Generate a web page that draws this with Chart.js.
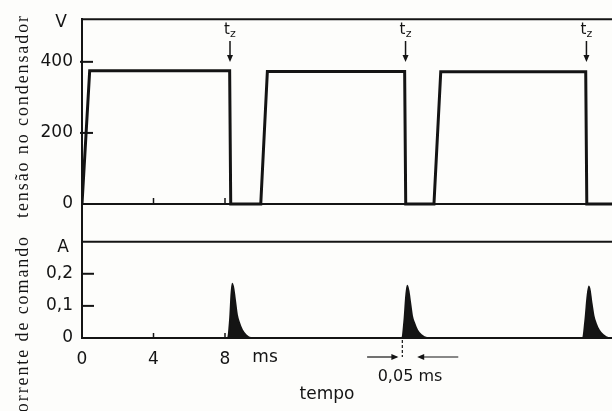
<!DOCTYPE html>
<html>
<head>
<meta charset="utf-8">
<script src="https://cdn.jsdelivr.net/npm/chart.js@4"></script>
<style>
    html, body { margin: 0; padding: 0; background: #fdfdfb; }
    #wrap { width: 612px; height: 411px; position: relative; }
</style>
</head>
<body>
<div id="wrap"><canvas id="chart" width="612" height="411"></canvas></div>
<script>
// tensão no condensador (V)
var timeV = [0, 0.43, 8.26, 8.32, 10.0, 10.37, 18.05, 18.11, 19.69, 20.07, 28.18, 28.24, 29.65];
var volts = [0, 375, 375, 0, 0, 373, 373, 0, 0, 372, 372, 0, 0];

// corrente de comando (A), three short pulses at t_z
var timeI = [0,
    8.17, 8.28, 8.41, 8.56, 8.67, 8.78, 8.95, 9.17, 9.45,
    17.92, 18.03, 18.2, 18.35, 18.46, 18.58, 18.75, 18.97, 19.3,
    28.03, 28.15, 28.36, 28.5, 28.62, 28.74, 28.92, 29.15, 29.45,
    29.65];
var amps = [0,
    0, 0.055, 0.169, 0.117, 0.071, 0.049, 0.025, 0.009, 0,
    0, 0.05, 0.163, 0.113, 0.069, 0.047, 0.024, 0.009, 0,
    0, 0.05, 0.16, 0.11, 0.068, 0.046, 0.024, 0.009, 0,
    0];

var tzTimes = [8.28, 18.1, 28.22];   // firing instants marked t_z

var vTicks = [0, 200, 400];
var iTicks = [0, 0.1, 0.2];
var tTicks = [0, 4, 8];

var ink = '#141414';
var tickFont = { family: 'DejaVu Sans', size: 17 };

function line(c, x1, y1, x2, y2) {
    c.beginPath();
    c.moveTo(x1, y1);
    c.lineTo(x2, y2);
    c.stroke();
}

function arrowHead(c, x, y, dx, dy) { // tip at x,y pointing along dx,dy
    var px = -dy, py = dx;
    c.beginPath();
    c.moveTo(x, y);
    c.lineTo(x - dx * 7 + px * 3, y - dy * 7 + py * 3);
    c.lineTo(x - dx * 7 - px * 3, y - dy * 7 - py * 3);
    c.closePath();
    c.fill();
}

var annotatePlugin = {
    id: 'annotate',
    afterDraw: function (chart) {
        var c = chart.ctx;
        var a = chart.chartArea;
        var x = chart.scales.x, yV = chart.scales.yV, yI = chart.scales.yI;
        var zeroV = yV.getPixelForValue(0);
        c.save();
        c.strokeStyle = ink;
        c.fillStyle = ink;
        c.lineWidth = 2;

        // frame lines
        [yV.getPixelForValue(yV.max), zeroV, yI.getPixelForValue(yI.max)].forEach(function (py) {
            line(c, a.left, py, a.right, py);
        });

        // inward tick marks
        vTicks.slice(1).forEach(function (v) {
            var py = yV.getPixelForValue(v);
            line(c, a.left - 2, py, a.left + 11, py);
        });
        iTicks.slice(1).forEach(function (v) {
            var py = yI.getPixelForValue(v);
            line(c, a.left, py, a.left + 12, py);
        });
        c.lineWidth = 1.5;
        tTicks.slice(1).forEach(function (t) {
            var px = x.getPixelForValue(t);
            line(c, px, zeroV, px, zeroV - 6);
            line(c, px, a.bottom, px, a.bottom - 5);
        });

        // unit labels
        c.font = '17px "DejaVu Sans"';
        c.textAlign = 'center';
        c.textBaseline = 'middle';
        c.fillText('V', 61, 23);
        c.fillText('A', 63, 248);
        c.fillText('ms', x.getPixelForValue(10.24), 358);
        c.fillText('tempo', 327, 395);

        // t_z markers
        tzTimes.forEach(function (t) {
            var px = x.getPixelForValue(t);
            c.font = '15px "DejaVu Sans"';
            c.fillText('t', px - 3, 30);
            c.font = '11px "DejaVu Sans"';
            c.fillText('z', px + 3, 34);
            c.lineWidth = 1.5;
            line(c, px, 41, px, 56);
            arrowHead(c, px, 62, 0, 1);
        });

        // pulse width note
        var xs = x.getPixelForValue(17.92);
        var yb = yI.getPixelForValue(0);
        c.lineWidth = 1.2;
        c.setLineDash([3, 2]);
        line(c, xs, yb + 2, xs, yb + 19);
        c.setLineDash([]);
        line(c, x.getPixelForValue(15.95), 357, x.getPixelForValue(17.6), 357);
        arrowHead(c, x.getPixelForValue(17.7), 357, 1, 0);
        line(c, x.getPixelForValue(18.95), 357, x.getPixelForValue(21.05), 357);
        arrowHead(c, x.getPixelForValue(18.75), 357, -1, 0);
        c.font = '16px "DejaVu Sans"';
        c.fillText('0,05 ms', x.getPixelForValue(18.35), 377);

        // rotated axis titles
        c.font = '18px "Liberation Serif"';
        c.letterSpacing = '1.9px';
        c.translate(23, 0);
        c.rotate(-Math.PI / 2);
        c.textAlign = 'center';
        c.fillText('tensão no condensador', -116, 0);
        c.textAlign = 'right';
        c.fillText('corrente de comando', -235, 0);
        c.restore();
    }
};

var ctx = document.getElementById('chart');
var chart = new Chart(ctx, {
    type: 'line',
    data: {
        datasets: [{
            label: 'tensão no condensador',
            data: timeV.map(function (t, i) { return { x: t, y: volts[i] }; }),
            yAxisID: 'yV',
            borderColor: ink,
            borderWidth: 3,
            pointRadius: 0,
            tension: 0,
            fill: false
        }, {
            label: 'corrente de comando',
            data: timeI.map(function (t, i) { return { x: t, y: amps[i] }; }),
            yAxisID: 'yI',
            borderColor: ink,
            backgroundColor: ink,
            borderWidth: 2,
            pointRadius: 0,
            cubicInterpolationMode: 'monotone',
            fill: 'origin'
        }]
    },
    options: {
        responsive: false,
        animation: false,
        layout: { padding: { top: 17, left: 0, right: 0, bottom: 0 } },
        plugins: {
            legend: { display: false },
            tooltip: { enabled: false }
        },
        scales: {
            x: {
                type: 'linear',
                min: 0,
                max: 29.65,
                grid: { drawOnChartArea: false, drawTicks: false },
                border: { color: ink, width: 2 },
                afterBuildTicks: function (s) { s.ticks = tTicks.map(function (v) { return { value: v }; }); },
                afterFit: function (s) { s.height = 73; },
                ticks: { padding: 11, color: ink, font: tickFont, maxRotation: 0 }
            },
            // stacked panels: the first one listed ends up at the bottom
            yI: {
                type: 'linear',
                position: 'left',
                stack: 'panels',
                stackWeight: 97,
                min: 0,
                max: 0.3,
                grid: { drawOnChartArea: false, drawTicks: false },
                border: { color: ink, width: 2 },
                afterBuildTicks: function (s) { s.ticks = iTicks.map(function (v) { return { value: v }; }); },
                afterFit: function (s) { s.width = 82; },
                ticks: {
                    padding: 9, color: ink, font: tickFont,
                    callback: function (v) { return String(v).replace('.', ','); }
                }
            },
            yV: {
                type: 'linear',
                position: 'left',
                stack: 'panels',
                stackWeight: 224,
                min: -106,
                max: 520,
                grid: { drawOnChartArea: false, drawTicks: false },
                border: { color: ink, width: 2 },
                afterBuildTicks: function (s) { s.ticks = vTicks.map(function (v) { return { value: v }; }); },
                afterFit: function (s) { s.width = 82; },
                ticks: { padding: 9, color: ink, font: tickFont }
            }
        }
    },
    plugins: [annotatePlugin]
});
</script>
</body>
</html>
